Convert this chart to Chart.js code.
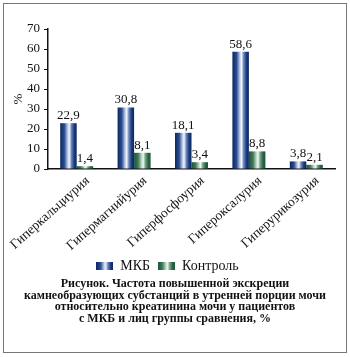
<!DOCTYPE html>
<html>
<head>
<meta charset="utf-8">
<script src="https://cdn.jsdelivr.net/npm/chart.js@4"></script>
<style>
  html, body { margin: 0; padding: 0; background: #fff; }
  #wrap { position: relative; width: 350px; height: 357px; }
  #frame { position: absolute; left: 3px; top: 3px; width: 342px; height: 348px; border: 1px solid #777; }
  #chart { position: absolute; left: 0; top: 0; }
  #caption {
    position: absolute; left: 4px; width: 342px; top: 278px;
    font-family: 'Liberation Serif', serif; font-weight: bold; font-size: 12px;
    line-height: 11.6px; text-align: center; color: #111;
  }
</style>
</head>
<body>
<div id="wrap">
  <div id="frame"></div>
  <canvas id="chart" width="350" height="357"></canvas>
  <div id="caption">Рисунок. Частота повышенной экскреции<br>камнеобразующих субстанций в утренней порции мочи<br>относительно креатинина мочи у пациентов<br>с МКБ и лиц группы сравнения, %</div>
</div>
<script>
console.log("Script started");

// Categories and series
var categories = ['Гиперкальциурия', 'Гипермагнийурия', 'Гиперфосфоурия', 'Гипероксалурия', 'Гиперурикозурия'];
var mkbValues = [22.9, 30.8, 18.1, 58.6, 3.8];
var controlValues = [1.4, 8.1, 3.4, 8.8, 2.1];
var seriesNames = ['МКБ', 'Контроль'];
var yTicks = [0, 10, 20, 30, 40, 50, 60, 70];

var CAT_PCT = 0.575;
var SERIF = "'Liberation Serif', 'Times New Roman', serif";

// Cylinder-like shading for the bars
var blueStops = [[0, '#0c2862'], [0.25, '#284c8e'], [0.45, '#b9c9e4'], [0.55, '#f4f7fc'], [0.68, '#6d88bb'], [0.85, '#1a3a7c'], [1, '#0c2862']];
var greenStops = [[0, '#1c5437'], [0.25, '#3f7a5a'], [0.45, '#bcd6c6'], [0.55, '#f2f8f4'], [0.68, '#78a58a'], [0.85, '#2a6546'], [1, '#1c5437']];

function barFill(stops) {
    return function(ctx) {
        var chart = ctx.chart;
        var xs = chart.scales.x;
        if (!xs || ctx.dataIndex === undefined) return stops[0][1];
        var bw = xs.width / categories.length * CAT_PCT / 2;
        var c = xs.getPixelForValue(ctx.dataIndex);
        var x0 = ctx.datasetIndex === 0 ? c - bw : c;
        var g = chart.ctx.createLinearGradient(x0, 0, x0 + bw, 0);
        stops.forEach(function(s) { g.addColorStop(s[0], s[1]); });
        return g;
    };
}

function legendSwatch(stops) {
    var cv = document.createElement('canvas');
    cv.width = 17; cv.height = 8;
    var c = cv.getContext('2d');
    var g = c.createLinearGradient(0, 0, 17, 0);
    stops.forEach(function(s) { g.addColorStop(s[0], s[1]); });
    c.fillStyle = g;
    c.fillRect(0, 0, 17, 8);
    return cv;
}
var swatches = [legendSwatch(blueStops), legendSwatch(greenStops)];

// Value labels above bars, decimal comma
var valueLabels = {
    id: 'valueLabels',
    afterDatasetsDraw: function(chart) {
        var ctx = chart.ctx;
        ctx.save();
        ctx.font = '13px ' + SERIF;
        ctx.fillStyle = '#111';
        ctx.textAlign = 'center';
        ctx.textBaseline = 'bottom';
        chart.data.datasets.forEach(function(ds, di) {
            chart.getDatasetMeta(di).data.forEach(function(bar, i) {
                ctx.fillText(ds.data[i].toFixed(1).replace('.', ','), bar.x, bar.y - 1);
            });
        });
        ctx.restore();
    }
};

new Chart(document.getElementById('chart').getContext('2d'), {
    type: 'bar',
    data: {
        labels: categories,
        datasets: [{
            label: seriesNames[0],
            data: mkbValues,
            backgroundColor: barFill(blueStops)
        }, {
            label: seriesNames[1],
            data: controlValues,
            backgroundColor: barFill(greenStops)
        }]
    },
    options: {
        responsive: false,
        animation: false,
        events: [],
        categoryPercentage: CAT_PCT,
        barPercentage: 1,
        layout: { padding: { top: 29, right: 15, left: 0, bottom: 74 } },
        plugins: {
            tooltip: { enabled: false },
            legend: {
                position: 'bottom',
                labels: {
                    usePointStyle: true,
                    pointStyleWidth: 17,
                    boxHeight: 8,
                    padding: 8,
                    color: '#111',
                    font: { family: SERIF, size: 14 },
                    generateLabels: function(chart) {
                        return chart.data.datasets.map(function(ds, i) {
                            return { text: ds.label, pointStyle: swatches[i], datasetIndex: i, lineWidth: 0, fontColor: '#111' };
                        });
                    }
                }
            }
        },
        scales: {
            x: {
                grid: { display: false },
                border: { display: true, color: '#111', width: 1.5 },
                ticks: {
                    color: '#111',
                    font: { family: SERIF, size: 13.5 },
                    autoSkip: false,
                    minRotation: 42,
                    maxRotation: 42,
                    labelOffset: 11,
                    padding: -4
                },
                afterFit: function(scale) { scale.height = 82; }
            },
            y: {
                min: 0,
                max: 70,
                afterBuildTicks: function(scale) {
                    scale.ticks = yTicks.map(function(v) { return { value: v }; });
                },
                grid: { drawOnChartArea: false, drawTicks: true, tickLength: 4, color: '#111' },
                border: { display: true, color: '#111', width: 1.5 },
                ticks: {
                    color: '#111',
                    padding: 4,
                    font: { family: SERIF, size: 13 }
                },
                title: {
                    display: true,
                    text: '%',
                    color: '#111',
                    font: { family: SERIF, size: 13 },
                    padding: { top: 11, bottom: 0 }
                },
                afterFit: function(scale) { scale.width = 48; }
            }
        }
    },
    plugins: [valueLabels]
});

console.log("Script completed");
</script>
</body>
</html>
